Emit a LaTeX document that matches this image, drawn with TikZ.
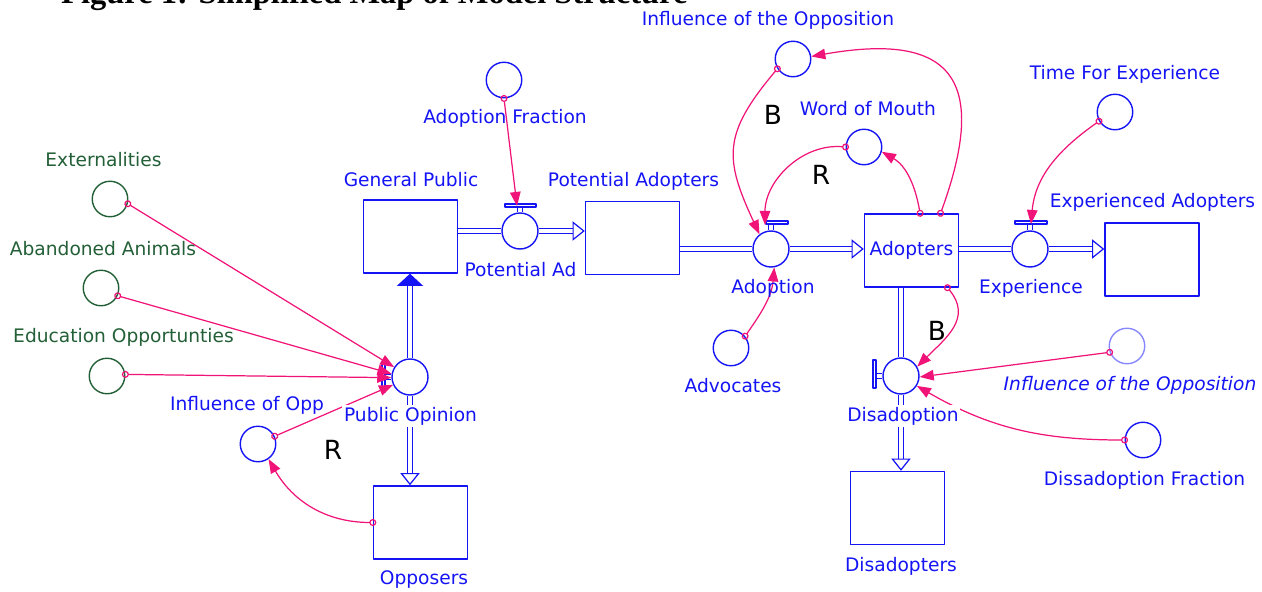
\documentclass[tikz,border=0pt]{standalone}
\usepackage{fontspec}
\setmainfont{DejaVu Sans}
\newfontfamily\titlefont{Liberation Serif}
\usetikzlibrary{arrows.meta,calc}
\definecolor{vblue}{RGB}{20,20,245}
\definecolor{vpink}{RGB}{240,20,120}
\definecolor{vgreen}{RGB}{35,95,55}
\definecolor{vlight}{RGB}{135,135,255}
\begin{document}
\begin{tikzpicture}[x=0.02cm,y=0.02cm,font=\fontsize{10.6}{12}\selectfont, line join=round,
	stock/.style={draw=vblue,line width=0.8pt,inner sep=1pt,minimum width=1.88cm,minimum height=1.46cm},
	valve/.style={circle,draw=vblue,line width=0.8pt,minimum size=0.72cm,fill=white},
	aux/.style={circle,draw=vblue,line width=0.8pt,minimum size=0.71cm},
	ext/.style={aux,draw=vgreen},
	lbl/.style={text=vblue,inner sep=1pt},
	glbl/.style={text=vgreen},
	looplbl/.style={font=\fontsize{15}{16}\selectfont},
	pipe/.style={draw=vblue,line width=0.7pt,double=white,double distance=1.9pt},
	flow/.style={pipe,-{Triangle[length=7pt,width=11pt,fill=white]}},
	bar/.style={draw=vblue,line width=0.7pt,fill=white},
	link/.style={vpink,line width=0.7pt,{Circle[open,length=4pt]}-{Triangle[length=8pt,width=6pt]},shorten <=-2pt}]
	\useasboundingbox (0,0) rectangle (1262,-592);
	\node[anchor=base west,font=\titlefont\bfseries\fontsize{18.5}{20}\selectfont] (title) at (55,-3) {Figure 1: Simplified Map of Model Structure};
	% stocks
	\node[stock] (gp) at (410.5,-236.5) {};
	\node[stock] (pad) at (632.5,-238) {};
	\node[stock,text=vblue] (ad) at (911.5,-250.5) {Adopters};
	\node[stock] (ea) at (1152,-259.5) {};
	\node[stock] (op) at (420.5,-522.5) {};
	\node[stock] (dsp) at (897.5,-508) {};
	% valves
	\node[valve] (pa) at (520,-231) {};
	\node[valve] (adn) at (771,-249) {};
	\node[valve] (exp) at (1030,-249) {};
	\node[valve] (po) at (410,-377) {};
	\node[valve] (dis) at (901,-376) {};
	% pipes
	\draw[pipe] (gp.east |- pa) -- (pa);
	\draw[flow] (pa) -- (pa -| pad.west);
	\draw[pipe] (pad.east |- adn) -- (adn);
	\draw[flow] (adn) -- (adn -| ad.west);
	\draw[pipe] (ad.east |- exp) -- (exp);
	\draw[flow] (exp) -- (exp -| ea.west);
	\draw[pipe,-{Triangle[length=7pt,width=15pt]}] (po) -- (po |- gp.south);
	\draw[flow] (po) -- (po |- op.north);
	\draw[pipe] (ad.south -| dis) -- (dis);
	\draw[flow] (dis) -- (dis |- dsp.north);
	% valve bars
	\draw[pipe] (pa.north) -- ++(0,6);
	\draw[bar] ($(pa)+(-15,24)$) rectangle ($(pa)+(16,27)$);
	\coordinate (pa-bar) at ($(pa)+(-3,25)$);
	\draw[pipe] (adn.north) -- ++(0,8);
	\draw[bar] ($(adn)+(-5,25)$) rectangle ($(adn)+(17,28)$);
	\coordinate (adn-bar) at ($(adn)+(-6,24)$);
	\draw[pipe] (exp.north) -- ++(0,7);
	\draw[bar] ($(exp)+(-15,25)$) rectangle ($(exp)+(17,28)$);
	\coordinate (exp-bar) at ($(exp)+(1,25)$);
	\draw[pipe] (po.west) -- ++(-7,0);
	\draw[bar] ($(po)+(-28,15)$) rectangle ($(po)+(-25,-15)$);
	\draw[pipe] (dis.west) -- ++(-7,0);
	\draw[bar] ($(dis)+(-28,16)$) rectangle ($(dis)+(-25,-12)$);
	% auxiliaries
	\node[aux] (af) at (504,-80) {};
	\node[aux] (ioo) at (793,-59) {};
	\node[aux] (wom) at (864,-147) {};
	\node[aux] (tfe) at (1115,-112) {};
	\node[aux] (adv) at (731,-348) {};
	\node[aux,draw=vlight] (ioo2) at (1127,-346) {};
	\node[aux] (dfr) at (1143,-440) {};
	\node[aux] (iop) at (258,-444) {};
	\node[ext] (ext) at (110,-199) {};
	\node[ext] (aba) at (101,-288) {};
	\node[ext] (edu) at (107,-376) {};
	% links
	\draw[link] (ext.-15) -- (po.148);
	\draw[link] (aba.-25) -- (po.170);
	\draw[link] (edu.5) -- (po.182);
	\draw[link] (iop.25) -- (po.205);
	\draw[link] (op.west) to[out=180,in=-60] (iop.-55);
	\draw[link] (af.south) -- (pa-bar);
	\draw[link] (ioo.212) to[out=230,in=115,looseness=1.3] (adn.128);
	\draw[link] (ad.52) to[out=70,in=10,looseness=1.8] (ioo.8);
	\draw[link] (ad.77) to[out=100,in=-30] (wom.-15);
	\draw[link] (wom.180) to[out=175,in=90] (adn-bar);
	\draw[link] (adv.40) to[out=55,in=-95] (adn.-80);
	\draw[link] (tfe.210) to[out=215,in=85] (exp-bar);
	\draw[link] (ad.-46) to[out=-50,in=45,looseness=1.2] (dis.30);
	\draw[link] (ioo2.200) -- (dis.-3);
	\draw[link] (dfr.west) to[out=180,in=-30] (dis.-32);
	% labels
	\node[lbl] (ioo-l) at (768,-20) {Influence of the Opposition};
	\node[lbl] (af-l) at (505,-118) {Adoption Fraction};
	\node[lbl] (wom-l) at (868,-109) {Word of Mouth};
	\node[lbl] (tfe-l) at (1125,-74) {Time For Experience};
	\node[lbl] (gp-l) at (411,-180) {General Public};
	\node[lbl] (pad-l) at (633.5,-181) {Potential Adopters};
	\node[lbl] (ea-l) at (1152.5,-202) {Experienced Adopters};
	\node[lbl] (pa-l) at (520.5,-270) {Potential Ad};
	\node[lbl] (adn-l) at (773,-288) {Adoption};
	\node[lbl] (exp-l) at (1031,-288) {Experience};
	\node[lbl] (adv-l) at (733,-386) {Advocates};
	\node[lbl,fill=white] (po-l) at (410.5,-416) {Public Opinion};
	\node[lbl,fill=white] (dis-l) at (903,-416) {Disadoption};
	\node[lbl,font=\fontsize{10.6}{12}\selectfont\itshape] (ioo2-l) at (1130,-385) {Influence of the Opposition};
	\node[lbl] (dfr-l) at (1144.5,-480) {Dissadoption Fraction};
	\node[lbl] (iop-l) at (247,-405) {Influence of Opp};
	\node[lbl] (op-l) at (424,-580) {Opposers};
	\node[lbl] (dsp-l) at (901,-566) {Disadopters};
	\node[glbl] (ext-l) at (103.5,-160) {Externalities};
	\node[glbl] (aba-l) at (103,-249) {Abandoned Animals};
	\node[glbl] (edu-l) at (123.5,-337) {Education Opportunties};
	% loops
	\node[looplbl] (b1) at (773,-115) {B};
	\node[looplbl] (r1) at (821,-175) {R};
	\node[looplbl] (b2) at (937,-331) {B};
	\node[looplbl] (r2) at (333,-450) {R};
\end{tikzpicture}
\end{document}
